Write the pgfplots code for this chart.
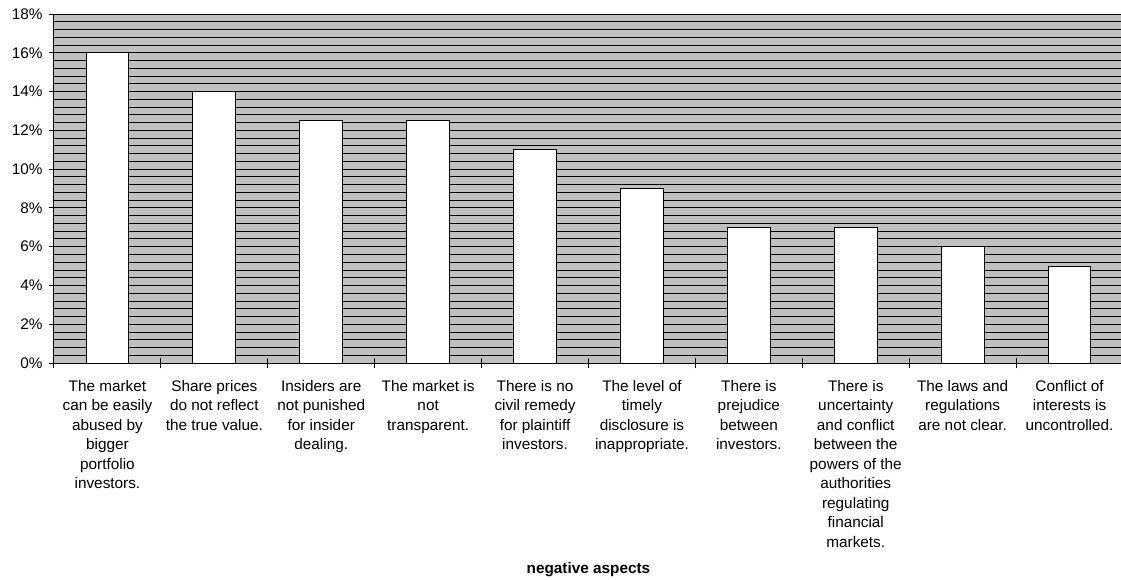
\documentclass[border=0pt]{standalone}
\usepackage{pgfplots}
\pgfplotsset{compat=1.18}
\usepackage{fontspec}
\setmainfont{Liberation Sans}
\definecolor{plotgray}{HTML}{C0C0C0}
\begin{document}
\begin{tikzpicture}[x=1pt,y=1pt]
% frame of the picture: 1121 x 579 px at 0.75pt/px, axis corner at (54px,363px)
\clip (-40.5,-162) rectangle (800.25,272.25);
\begin{axis}[
    at={(0,0)}, anchor=south west,
    scale only axis,
    width=801.75pt, height=261.75pt,
    font=\fontsize{11.5}{14.6}\selectfont,
    /pgf/number format/assume math mode=true,
    axis background/.style={fill=plotgray},
    axis x line*=bottom, axis y line*=left,
    axis line style={black, line width=0.75pt},
    xmin=-0.5, xmax=9.5,
    ymin=0, ymax=18,
    ybar, bar width=0.4,
    xtick={0,...,9},
    major x tick style={draw=none},
    minor xtick={-0.5,0.5,...,9.5},
    minor tick length=8pt,
    minor x tick style={black, line width=0.75pt},
    tick align=center,
    major tick length=8pt,
    ytick={0,2,...,18},
    yticklabels={0\%,2\%,4\%,6\%,8\%,10\%,12\%,14\%,16\%,18\%},
    y tick style={black, line width=0.75pt},
    minor y tick num=4,
    minor y tick style={draw=none},
    ymajorgrids, yminorgrids,
    major grid style={black, line width=0.65pt},
    minor grid style={black, line width=0.65pt},
    xticklabels={
      {The market\\can be easily\\abused by\\bigger\\portfolio\\investors.},
      {Share prices\\do not reflect\\the true value.},
      {Insiders are\\not punished\\for insider\\dealing.},
      {The market is\\not\\transparent.},
      {There is no\\civil remedy\\for plaintiff\\investors.},
      {The level of\\timely\\disclosure is\\inappropriate.},
      {There is\\prejudice\\between\\investors.},
      {There is\\uncertainty\\and conflict\\between the\\powers of the\\authorities\\regulating\\financial\\markets.},
      {The laws and\\regulations\\are not clear.},
      {Conflict of\\interests is\\uncontrolled.}
    },
    x tick label style={align=center, anchor=north, yshift=-5.5pt},
    y tick label style={xshift=-1pt},
    xlabel={\bfseries negative aspects},
    xlabel style={at={(rel axis cs:0.5,0)}, anchor=base, yshift=-157.5pt},
]
\addplot[fill=white, draw=black, line width=0.75pt]
  coordinates {(0,16) (1,14) (2,12.5) (3,12.5) (4,11) (5,9) (6,7) (7,7) (8,6) (9,5)};
\end{axis}
\end{tikzpicture}
\end{document}
